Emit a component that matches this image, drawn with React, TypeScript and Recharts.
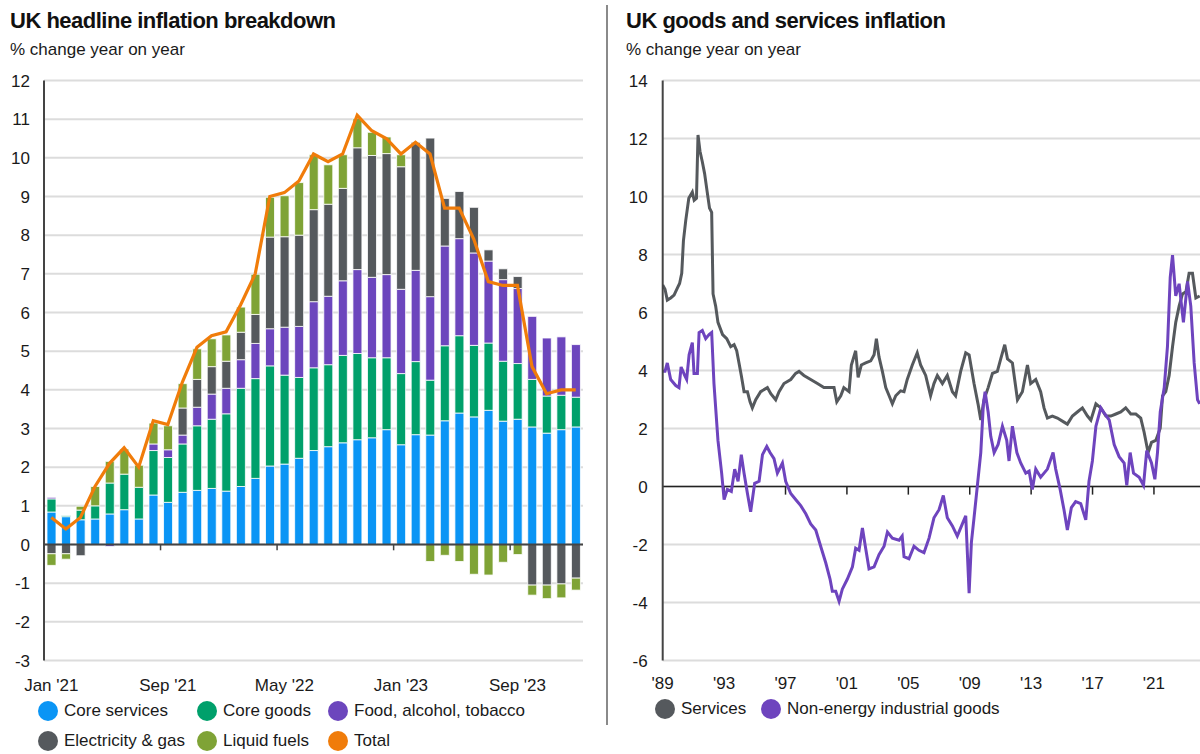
import React from 'react';
import {
  ComposedChart,
  LineChart,
  Bar,
  Line,
  XAxis,
  YAxis,
  CartesianGrid,
  ReferenceLine,
} from 'recharts';

// ---- left panel: headline CPI contributions (ppt) ----
const months = [
  "Jan '21", "Feb '21", "Mar '21", "Apr '21", "May '21", "Jun '21", "Jul '21", "Aug '21",
  "Sep '21", "Oct '21", "Nov '21", "Dec '21", "Jan '22", "Feb '22", "Mar '22", "Apr '22",
  "May '22", "Jun '22", "Jul '22", "Aug '22", "Sep '22", "Oct '22", "Nov '22", "Dec '22",
  "Jan '23", "Feb '23", "Mar '23", "Apr '23", "May '23", "Jun '23", "Jul '23", "Aug '23",
  "Sep '23", "Oct '23", "Nov '23", "Dec '23", "Jan '24",
];
const coreServices = [0.84, 0.72, 0.64, 0.66, 0.79, 0.9, 0.66, 1.28, 1.09, 1.35, 1.4, 1.45, 1.38, 1.5, 1.71, 2.03, 2.08, 2.23, 2.43, 2.53, 2.63, 2.71, 2.76, 2.97, 2.58, 2.84, 2.83, 3.2, 3.4, 3.3, 3.47, 3.19, 3.24, 3.04, 2.88, 2.97, 3.04];
const coreGoods = [0.34, 0.03, 0.25, 0.34, 0.8, 0.92, 0.82, 1.15, 1.16, 1.25, 1.67, 1.79, 2.0, 2.54, 2.58, 2.59, 2.3, 2.09, 2.14, 2.12, 2.26, 2.23, 2.07, 1.86, 1.84, 1.89, 1.42, 1.94, 2.0, 1.85, 1.74, 1.55, 1.44, 1.23, 0.96, 0.89, 0.77];
const foodAlcTob = [0.04, 0, 0, 0, -0.05, 0, 0, 0.17, 0.2, 0.23, 0.48, 0.65, 0.66, 0.74, 0.91, 0.96, 1.24, 1.32, 1.71, 1.77, 1.93, 2.17, 2.08, 2.15, 2.18, 2.36, 2.16, 2.58, 2.51, 2.39, 2.12, 2.11, 1.94, 1.63, 1.5, 1.51, 1.36];
const elecGas = [-0.24, -0.24, -0.29, 0, 0, 0, 0, 0, 0, 0.7, 0.72, 0.71, 0.7, 0.71, 0.75, 2.37, 2.34, 2.36, 2.38, 2.38, 2.39, 3.15, 3.15, 3.13, 3.17, 3.31, 4.1, 1.23, 1.22, 1.18, 0.29, 0.28, 0.31, -1.05, -1.05, -1.02, -0.87];
const liquidFuels = [-0.3, -0.14, 0.1, 0.5, 0.56, 0.65, 0.57, 0.54, 0.62, 0.63, 0.79, 0.72, 0.68, 0.65, 1.04, 1.03, 1.06, 1.36, 1.42, 1.02, 0.87, 0.76, 0.6, 0.43, 0.31, 0, -0.44, -0.28, -0.44, -0.77, -0.79, -0.46, -0.26, -0.26, -0.35, -0.36, -0.31];
const totalCpi = [0.7, 0.4, 0.7, 1.5, 2.1, 2.5, 2.0, 3.2, 3.1, 4.2, 5.1, 5.4, 5.5, 6.2, 7.0, 9.0, 9.1, 9.4, 10.1, 9.9, 10.1, 11.1, 10.7, 10.5, 10.1, 10.4, 10.1, 8.7, 8.7, 7.9, 6.8, 6.7, 6.7, 4.6, 3.9, 4.0, 4.0];
const leftTicks = [-3, -2, -1, 0, 1, 2, 3, 4, 5, 6, 7, 8, 9, 10, 11, 12];
const leftTickMarks = [8, 16, 24, 32];

// ---- right panel: services vs NEIG, [year, % y/y] ----
const services: [number, number][] = [
  [1989.0, 6.95], [1989.15, 6.8], [1989.3, 6.43], [1989.52, 6.5], [1989.74, 6.6], [1989.96, 6.85], [1990.1, 7.0], [1990.24, 7.35],
  [1990.35, 8.47], [1990.5, 9.17], [1990.7, 9.94], [1990.93, 10.15], [1991.05, 9.87], [1991.2, 9.94], [1991.3, 12.12], [1991.43, 11.56],
  [1991.58, 11.2], [1991.73, 10.79], [1991.9, 10.15], [1992.05, 9.6], [1992.19, 9.45], [1992.28, 6.64], [1992.45, 6.22], [1992.6, 5.66],
  [1992.9, 5.24], [1993.17, 5.1], [1993.43, 4.82], [1993.65, 4.89], [1993.82, 4.68], [1993.97, 4.26], [1994.12, 3.83], [1994.3, 3.27],
  [1994.52, 3.27], [1994.69, 2.92], [1994.84, 2.71], [1995.06, 2.99], [1995.38, 3.27], [1995.82, 3.41], [1996.04, 3.2], [1996.36, 2.99],
  [1996.58, 3.27], [1996.9, 3.55], [1997.34, 3.69], [1997.66, 3.9], [1997.88, 3.97], [1998.2, 3.83], [1998.64, 3.69], [1999.08, 3.55],
  [1999.5, 3.41], [1999.94, 3.41], [2000.16, 3.41], [2000.34, 2.92], [2000.6, 3.13], [2000.8, 3.41], [2001.14, 3.27], [2001.29, 4.19],
  [2001.57, 4.68], [2001.73, 3.76], [2001.94, 4.19], [2002.22, 4.26], [2002.55, 4.33], [2002.77, 4.54], [2002.92, 5.1], [2003.09, 4.47],
  [2003.31, 3.97], [2003.53, 3.41], [2003.75, 3.13], [2003.96, 2.85], [2004.18, 3.13], [2004.5, 3.3], [2004.72, 3.27], [2004.93, 3.69],
  [2005.26, 4.19], [2005.58, 4.61], [2005.8, 4.19], [2006.13, 3.83], [2006.45, 3.13], [2006.67, 3.55], [2006.89, 3.83], [2007.22, 3.55],
  [2007.54, 3.83], [2007.87, 3.27], [2008.08, 3.13], [2008.41, 3.97], [2008.74, 4.61], [2008.96, 4.54], [2009.28, 3.55], [2009.54, 2.85],
  [2009.72, 2.29], [2009.93, 2.99], [2010.2, 3.41], [2010.48, 3.9], [2010.8, 3.97], [2011.02, 4.4], [2011.28, 4.89], [2011.46, 4.4],
  [2011.78, 4.26], [2012.11, 2.99], [2012.43, 3.27], [2012.76, 4.19], [2012.97, 3.55], [2013.3, 3.69], [2013.62, 3.27], [2013.84, 2.71],
  [2014.06, 2.36], [2014.38, 2.43], [2014.71, 2.36], [2015.14, 2.22], [2015.36, 2.15], [2015.69, 2.43], [2016.01, 2.57], [2016.34, 2.71],
  [2016.67, 2.43], [2016.89, 2.29], [2017.22, 2.85], [2017.54, 2.71], [2017.87, 2.43], [2018.19, 2.43], [2018.52, 2.5], [2018.84, 2.57],
  [2019.16, 2.71], [2019.49, 2.5], [2019.82, 2.5], [2020.14, 2.36], [2020.36, 1.87], [2020.62, 1.17], [2020.84, 1.52], [2021.12, 1.59],
  [2021.41, 2.01], [2021.56, 3.13], [2021.77, 3.27], [2021.99, 3.83], [2022.21, 4.82], [2022.42, 5.66], [2022.64, 6.22], [2022.86, 6.64],
  [2023.08, 6.71], [2023.29, 7.35], [2023.51, 7.35], [2023.73, 6.5], [2023.98, 6.57],
];
const neig: [number, number][] = [
  [1989.0, 3.97], [1989.15, 3.97], [1989.3, 4.26], [1989.52, 3.69], [1989.85, 3.48], [1990.06, 3.41], [1990.2, 4.12], [1990.43, 3.83],
  [1990.56, 3.69], [1990.72, 4.54], [1990.93, 4.96], [1991.04, 3.9], [1991.26, 3.9], [1991.37, 5.31], [1991.58, 5.38], [1991.8, 5.1],
  [1992.02, 5.24], [1992.19, 5.31], [1992.34, 3.55], [1992.6, 1.59], [1992.84, 0.46], [1993.0, -0.45], [1993.21, -0.1], [1993.47, -0.17],
  [1993.69, 0.6], [1993.91, 0.18], [1994.12, 1.1], [1994.3, 0.46], [1994.52, -0.24], [1994.73, -0.87], [1994.99, 0.11], [1995.28, 0.18],
  [1995.5, 1.1], [1995.78, 1.38], [1995.99, 1.17], [1996.25, 0.96], [1996.47, 0.46], [1996.8, 0.81], [1997.01, 0.18], [1997.34, -0.24],
  [1997.66, -0.45], [1997.99, -0.66], [1998.32, -0.94], [1998.64, -1.29], [1998.97, -1.5], [1999.29, -2.06], [1999.62, -2.63], [1999.9, -3.19],
  [2000.05, -3.61], [2000.27, -3.61], [2000.49, -3.96], [2000.7, -3.54], [2001.03, -3.19], [2001.36, -2.77], [2001.57, -2.13], [2001.79, -2.2],
  [2002.01, -1.43], [2002.22, -2.13], [2002.44, -2.84], [2002.77, -2.77], [2003.09, -2.35], [2003.42, -2.06], [2003.64, -1.57], [2003.96, -1.78],
  [2004.4, -1.85], [2004.6, -1.71], [2004.72, -2.42], [2005.04, -2.49], [2005.37, -2.06], [2005.69, -2.2], [2006.02, -2.28], [2006.35, -1.78],
  [2006.67, -1.08], [2007.0, -0.8], [2007.28, -0.31], [2007.54, -1.08], [2007.87, -1.36], [2008.19, -1.71], [2008.52, -1.29], [2008.74, -1.01],
  [2008.96, -3.68], [2009.11, -1.92], [2009.28, -1.08], [2009.5, 0.04], [2009.72, 1.17], [2009.89, 2.85], [2010.0, 3.27], [2010.2, 2.57],
  [2010.37, 1.73], [2010.59, 1.17], [2010.85, 1.45], [2011.13, 2.08], [2011.41, 1.59], [2011.56, 0.88], [2011.78, 2.08], [2012.07, 1.17],
  [2012.32, 0.81], [2012.65, 0.46], [2012.87, 0.53], [2013.08, -0.1], [2013.3, 0.6], [2013.62, 0.32], [2014.06, 0.6], [2014.43, 1.17],
  [2014.6, 0.6], [2014.89, -0.1], [2015.14, -0.8], [2015.36, -1.5], [2015.62, -0.73], [2015.9, -0.52], [2016.23, -0.59], [2016.56, -1.15],
  [2016.77, 0.18], [2016.99, 0.88], [2017.22, 2.08], [2017.54, 2.71], [2017.8, 2.5], [2018.09, 2.29], [2018.41, 1.45], [2018.73, 1.03],
  [2019.06, 0.81], [2019.23, 0.04], [2019.45, 1.17], [2019.67, 0.46], [2020.04, 0.32], [2020.32, 0.04], [2020.53, 1.24], [2020.84, 0.81],
  [2021.06, 0.25], [2021.23, 1.17], [2021.41, 2.57], [2021.67, 3.41], [2021.88, 4.82], [2022.06, 7.21], [2022.21, 7.98], [2022.42, 6.57],
  [2022.64, 6.99], [2022.92, 5.66], [2023.19, 7.07], [2023.4, 6.22], [2023.62, 4.26], [2023.84, 2.99], [2023.98, 2.85],
];
const rightYTicks = [-6, -4, -2, 0, 2, 4, 6, 8, 10, 12, 14];
const rightXTicks = [1989, 1993, 1997, 2001, 2005, 2009, 2013, 2017, 2021];

const C = {
  services: '#0A95F5',
  goods: '#00A06B',
  food: '#6C46BD',
  elec: '#55595D',
  fuels: '#7FA336',
  total: '#F07C0A',
  neig: '#6E44BE',
  grid: '#dcdcdc',
  axis: '#444',
  text: '#1a1a1a',
};

const FONT = '"Liberation Sans", Arial, sans-serif';

const barTable = months.map((m, i) => ({
  month: m,
  idx: i + 0.5,
  coreServices: coreServices[i],
  coreGoods: coreGoods[i],
  food: foodAlcTob[i],
  elec: elecGas[i],
  fuels: liquidFuels[i],
  total: totalCpi[i],
}));
const servicesData = services.map(([x, v]) => ({ x, v }));
const neigData = neig.map(([x, v]) => ({ x, v }));

const leftLegend = [
  [{ name: 'Core services', color: C.services }, { name: 'Core goods', color: C.goods }, { name: 'Food, alcohol, tobacco', color: C.food }],
  [{ name: 'Electricity & gas', color: C.elec }, { name: 'Liquid fuels', color: C.fuels }, { name: 'Total', color: C.total }],
];
const leftLegendCols = [38, 197, 328];
const rightLegend = [
  { name: 'Services', color: C.elec, left: 655 },
  { name: 'Non-energy industrial goods', color: C.neig, left: 761 },
];

const tickStyle = { fontSize: 17, fill: C.text, fontFamily: FONT };

function LegendItem({ name, color, left, top }: { name: string; color: string; left: number; top: number }) {
  return (
    <div style={{ position: 'absolute', left, top, display: 'flex', alignItems: 'center', height: 20 }}>
      <span style={{ width: 20, height: 20, borderRadius: 10, background: color, display: 'inline-block' }} />
      <span style={{ marginLeft: 6, fontSize: 17, color: C.text, whiteSpace: 'nowrap', lineHeight: '20px' }}>{name}</span>
    </div>
  );
}

export default function App() {
  const titleStyle: React.CSSProperties = {
    position: 'absolute', top: 10, fontSize: 22, fontWeight: 'bold', lineHeight: '22px',
    letterSpacing: -0.5, color: '#111', whiteSpace: 'nowrap',
  };
  const subStyle: React.CSSProperties = {
    position: 'absolute', top: 41, fontSize: 17, lineHeight: '17px', color: C.text, whiteSpace: 'nowrap',
  };
  return (
    <div style={{ position: 'absolute', left: 0, top: 0, width: 1200, height: 754, overflow: 'hidden', background: '#fff', fontFamily: FONT }}>
      <div style={{ ...titleStyle, left: 10 }}>UK headline inflation breakdown</div>
      <div style={{ ...subStyle, left: 10 }}>% change year on year</div>
      <div style={{ ...titleStyle, left: 626 }}>UK goods and services inflation</div>
      <div style={{ ...subStyle, left: 626 }}>% change year on year</div>
      <div style={{ position: 'absolute', left: 606, top: 5, width: 2, height: 720, background: '#8a8a8a' }} />

      <div style={{ position: 'absolute', left: 0, top: 0 }}>
        <ComposedChart
          width={600}
          height={700}
          data={barTable}
          stackOffset="sign"
          barCategoryGap={0}
          margin={{ top: 80.5, right: 17, bottom: 9.5, left: 0 }}
        >
          <CartesianGrid vertical={false} stroke={C.grid} strokeWidth={2} />
          <XAxis
            dataKey="month"
            interval={7}
            axisLine={false}
            tickLine={false}
            tickSize={0}
            tickMargin={18}
            height={30}
            tick={tickStyle}
          />
          <XAxis xAxisId="idx" type="number" dataKey="idx" domain={[0, 37]} hide />
          <YAxis
            domain={[-3, 12]}
            ticks={leftTicks}
            interval={0}
            width={44}
            tickLine={false}
            tickSize={0}
            tickMargin={14}
            axisLine={{ stroke: C.axis, strokeWidth: 2 }}
            tick={tickStyle}
          />
          <Bar dataKey="coreServices" stackId="a" fill={C.services} stroke="#fff" strokeWidth={0.8} barSize={9} isAnimationActive={false} />
          <Bar dataKey="coreGoods" stackId="a" fill={C.goods} stroke="#fff" strokeWidth={0.8} barSize={9} isAnimationActive={false} />
          <Bar dataKey="food" stackId="a" fill={C.food} stroke="#fff" strokeWidth={0.8} barSize={9} isAnimationActive={false} />
          <Bar dataKey="elec" stackId="a" fill={C.elec} stroke="#fff" strokeWidth={0.8} barSize={9} isAnimationActive={false} />
          <Bar dataKey="fuels" stackId="a" fill={C.fuels} stroke="#fff" strokeWidth={0.8} barSize={9} isAnimationActive={false} />
          <ReferenceLine y={0} stroke={C.axis} strokeWidth={2} />
          {leftTickMarks.map((t) => (
            <ReferenceLine
              key={t}
              xAxisId="idx"
              segment={[{ x: t, y: 0 }, { x: t, y: -0.15 }]}
              stroke={C.axis}
              strokeWidth={1.5}
            />
          ))}
          <Line dataKey="total" type="linear" stroke={C.total} strokeWidth={3.2} dot={false} isAnimationActive={false} />
        </ComposedChart>
      </div>

      <div style={{ position: 'absolute', left: 610, top: 0 }}>
        <LineChart width={590} height={700} margin={{ top: 80.5, right: 0, bottom: 9.5, left: 0 }}>
          <CartesianGrid vertical={false} stroke={C.grid} strokeWidth={2} />
          <XAxis
            type="number"
            dataKey="x"
            domain={[1989, 2024]}
            ticks={rightXTicks}
            interval={0}
            allowDataOverflow
            tickFormatter={(y: number) => "'" + String(y).slice(2)}
            axisLine={false}
            tickLine={false}
            tickSize={0}
            tickMargin={16}
            height={30}
            tick={tickStyle}
          />
          <YAxis
            domain={[-6, 14]}
            ticks={rightYTicks}
            interval={0}
            width={52.7}
            tickLine={false}
            tickSize={0}
            tickMargin={15}
            axisLine={{ stroke: C.axis, strokeWidth: 2 }}
            tick={tickStyle}
          />
          <ReferenceLine y={0} stroke="#222" strokeWidth={1.5} />
          {rightXTicks.slice(1).map((t) => (
            <ReferenceLine key={t} segment={[{ x: t, y: 0 }, { x: t, y: -0.28 }]} stroke="#222" strokeWidth={1.5} />
          ))}
          <Line data={servicesData} dataKey="v" type="linear" stroke={C.elec} strokeWidth={3} dot={false} isAnimationActive={false} />
          <Line data={neigData} dataKey="v" type="linear" stroke={C.neig} strokeWidth={3} dot={false} isAnimationActive={false} />
        </LineChart>
      </div>

      {leftLegend.map((row, r) =>
        row.map((item, c) => (
          <LegendItem key={item.name} name={item.name} color={item.color} left={leftLegendCols[c]} top={701 + r * 30} />
        ))
      )}
      {rightLegend.map((item) => (
        <LegendItem key={item.name} name={item.name} color={item.color} left={item.left} top={699} />
      ))}
    </div>
  );
}
